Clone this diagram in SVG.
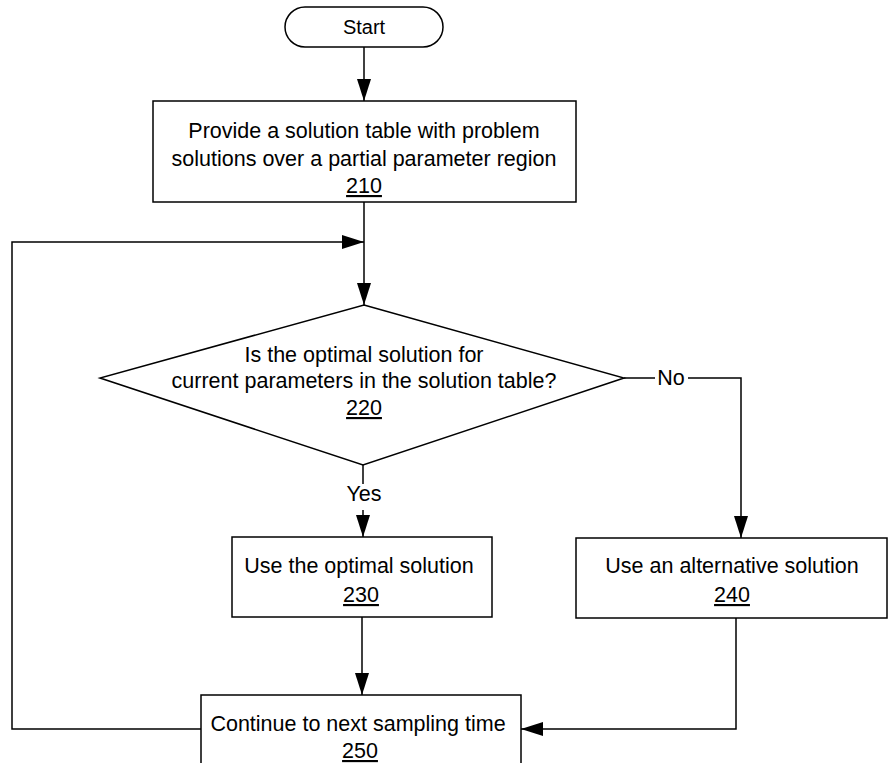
<svg xmlns="http://www.w3.org/2000/svg" width="888" height="763" viewBox="0 0 888 763">
<defs>
<marker id="ah" viewBox="0 0 22 14" refX="22" refY="7" markerWidth="22" markerHeight="14" markerUnits="userSpaceOnUse" orient="auto">
<path d="M0,0 L22,7 L0,14 Z" fill="#000"/>
</marker>
</defs>
<style>
.box{fill:#fff;stroke:#000;stroke-width:1.5}
.t{font-family:"Liberation Sans",Arial,sans-serif;font-size:21.5px;fill:#000;text-anchor:middle}
.u{text-decoration:underline}
.c{fill:none;stroke:#000;stroke-width:1.5}
</style>
<rect width="888" height="763" fill="#fff"/>
<g id="connectors">
<path class="c" d="M364,47 V101" marker-end="url(#ah)"/>
<path class="c" d="M364,202 V305" marker-end="url(#ah)"/>
<path class="c" d="M201,729 H12 V242 H364" marker-end="url(#ah)"/>
<path class="c" d="M363,465 V484"/>
<path class="c" d="M363,510 V537" marker-end="url(#ah)"/>
<path class="c" d="M624,378 H655"/>
<path class="c" d="M688,378 H741 V538" marker-end="url(#ah)"/>
<text class="t" x="671" y="385">No</text>
<text class="t" x="364" y="501">Yes</text>
<path class="c" d="M362,617 V695" marker-end="url(#ah)"/>
<path class="c" d="M736,618 V729 H521" marker-end="url(#ah)"/>
</g>
<g id="start">
<rect class="box" x="285" y="7" width="158" height="40" rx="20"/>
<text class="t" x="364" y="34" style="font-size:20px">Start</text>
</g>
<g id="n210">
<rect class="box" x="153" y="101" width="423" height="101"/>
<text class="t" x="364" y="138">Provide a solution table with problem</text>
<text class="t" x="364" y="166">solutions over a partial parameter region</text>
<text class="t u" x="364" y="193">210</text>
</g>
<g id="n220">
<polygon class="box" points="364,305 624,378 363,465 100,378"/>
<text class="t" x="364" y="362">Is the optimal solution for</text>
<text class="t" x="364" y="388">current parameters in the solution table?</text>
<text class="t u" x="364" y="415">220</text>
</g>
<g id="n230">
<rect class="box" x="232" y="537" width="260" height="80"/>
<text class="t" x="359" y="573">Use the optimal solution</text>
<text class="t u" x="361" y="602">230</text>
</g>
<g id="n240">
<rect class="box" x="576" y="538" width="311" height="80"/>
<text class="t" x="732" y="573">Use an alternative solution</text>
<text class="t u" x="732" y="602">240</text>
</g>
<g id="n250">
<rect class="box" x="201" y="695" width="320" height="75"/>
<text class="t" x="358" y="731">Continue to next sampling time</text>
<text class="t u" x="360" y="758">250</text>
</g>
</svg>
